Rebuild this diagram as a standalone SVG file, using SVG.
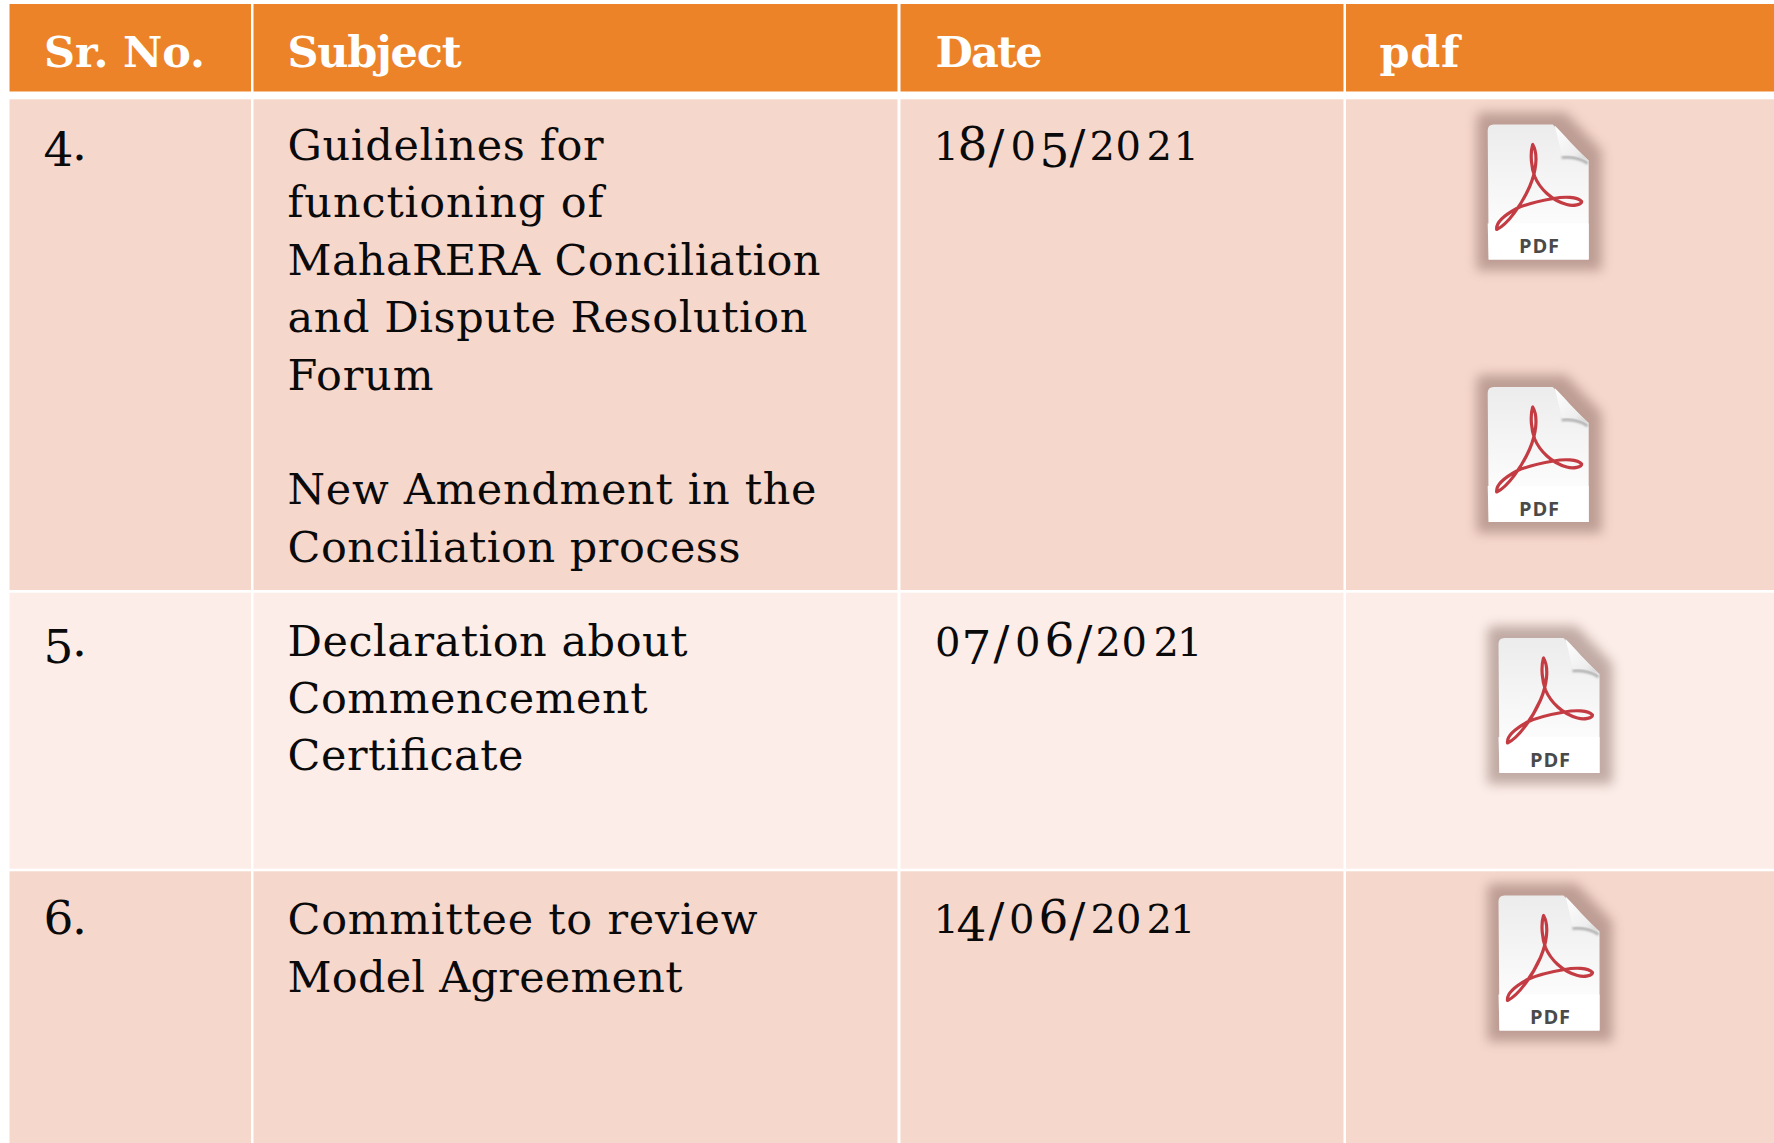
<svg xmlns="http://www.w3.org/2000/svg" width="1774" height="1143" viewBox="0 0 1774 1143">
<style>
.hd{fill:#ed8329}.dk{fill:#f6d7cc}.lt{fill:#fcede8}
text{font-family:"DejaVu Serif","Liberation Serif",serif}
.h{font-size:43px;font-weight:700;fill:#fff}
.b{font-size:43px;fill:#0a0a0a}
.n{font-size:47px;fill:#0a0a0a}
.x{font-size:40px}
.p{font-family:"Open Sans","Liberation Sans",sans-serif;font-size:20px;font-weight:700;fill:#4a4a4a}
</style>
<defs>
<filter id="blur" x="-40%" y="-40%" width="180%" height="180%"><feGaussianBlur stdDeviation="6"/></filter>
<filter id="soft" x="-20%" y="-100%" width="140%" height="300%"><feGaussianBlur stdDeviation="1.2"/></filter>
<linearGradient id="page" x1="0" y1="0" x2="0" y2="1"><stop offset="0" stop-color="#ececec"/><stop offset=".7" stop-color="#fbfbfb"/><stop offset="1" stop-color="#ffffff"/></linearGradient>
<linearGradient id="curl" x1="0" y1="0" x2="1" y2="1"><stop offset="0" stop-color="#ffffff"/><stop offset=".7" stop-color="#eeeeee"/><stop offset="1" stop-color="#cfcfcf"/></linearGradient>
<g id="icon">
<path d="M-5 -12H78L114 26V146H-11V-6Q-11 -12 -5 -12Z" fill="#6f5047" opacity=".42" filter="url(#blur)"/>
<path d="M6 0H65C72 8 88 24 101 36V135H1L0 6Q0 0 6 0Z" fill="url(#page)"/>
<path d="M0 99H101V135H1Z" fill="#fff"/>
<path d="M74 33C83 32 94 34 100 39" fill="none" stroke="#a8a8a8" stroke-width="2.5" filter="url(#soft)"/>
<path d="M67 1C70 12 72 24 75 31C83 30 94 32 101 36C88 24 76 10 67 1Z" fill="url(#curl)"/>
<path d="M9 105C20 100 34 80 42 62C48 48 51 30 45 20C42 30 44 44 47 52C52 64 64 76 79 80C86 82 94 80 94 77C90 72 76 72 66 74C54 76 40 79 29 84C18 90 8 98 9 105Z" fill="none" stroke="#c43c43" stroke-width="3.2" stroke-linejoin="round"/>
</g>
</defs>
<rect width="1774" height="1143" fill="#fff"/>
<g id="header">
<rect class="hd" x="9.5" y="4" width="241.5" height="87.5"/>
<rect class="hd" x="253.5" y="4" width="644" height="87.5"/>
<rect class="hd" x="900.5" y="4" width="443" height="87.5"/>
<rect class="hd" x="1346" y="4" width="428" height="87.5"/>
<text class="h" x="44" y="66.5" textLength="161">Sr. No.</text>
<text class="h" x="287.5" y="66.5" textLength="174">Subject</text>
<text class="h" x="935.5" y="66.5" textLength="107">Date</text>
<text class="h" x="1379.5" y="66.5" textLength="80">pdf</text>
</g>
<g id="row-4">
<rect class="dk" x="9.5" y="99.3" width="241.5" height="490.7"/>
<rect class="dk" x="253.5" y="99.3" width="644" height="490.7"/>
<rect class="dk" x="900.5" y="99.3" width="443" height="490.7"/>
<rect class="dk" x="1346" y="99.3" width="428" height="490.7"/>
<text class="n" y="161"><tspan x="43.5" y="166">4</tspan><tspan x="72" y="160">.</tspan></text>
<text class="b" x="287.5" y="159.7" textLength="316">Guidelines for</text>
<text class="b" x="287.5" y="217" textLength="316">functioning of</text>
<text class="b" x="287.5" y="274.5" textLength="533">MahaRERA Conciliation</text>
<text class="b" x="287.5" y="332" textLength="520">and Dispute Resolution</text>
<text class="b" x="287.5" y="390" textLength="146">Forum</text>
<text class="b" x="287.5" y="504.2" textLength="529">New Amendment in the</text>
<text class="b" x="287.5" y="561.8" textLength="453">Conciliation process</text>
<text class="n" y="160"><tspan class="x" x="933.5">1</tspan><tspan x="957.5">8</tspan><tspan x="988.5" y="163">/</tspan><tspan class="x" x="1010.5" y="160">0</tspan><tspan x="1039.5" y="167">5</tspan><tspan x="1069.5" y="163">/</tspan><tspan class="x" x="1089.5" y="160">2</tspan><tspan class="x" x="1115.5">0</tspan><tspan class="x" x="1146.5">2</tspan><tspan class="x" x="1173.5">1</tspan></text>
</g>
<g id="row-5">
<rect class="lt" x="9.5" y="592.7" width="241.5" height="276"/>
<rect class="lt" x="253.5" y="592.7" width="644" height="276"/>
<rect class="lt" x="900.5" y="592.7" width="443" height="276"/>
<rect class="lt" x="1346" y="592.7" width="428" height="276"/>
<text class="n" y="656"><tspan x="43.5" y="663">5</tspan><tspan x="72" y="656">.</tspan></text>
<text class="b" x="287.5" y="655.5" textLength="400">Declaration about</text>
<text class="b" x="287.5" y="712.5" textLength="360">Commencement</text>
<text class="b" x="287.5" y="770" textLength="236">Certificate</text>
<text class="n" y="656"><tspan class="x" x="935">0</tspan><tspan x="961.5" y="664">7</tspan><tspan x="993.5" y="659">/</tspan><tspan class="x" x="1015" y="656">0</tspan><tspan x="1044.5">6</tspan><tspan x="1076.5" y="659">/</tspan><tspan class="x" x="1095.5" y="656">2</tspan><tspan class="x" x="1121.5">0</tspan><tspan class="x" x="1153.5">2</tspan><tspan class="x" x="1177">1</tspan></text>
</g>
<g id="row-6">
<rect class="dk" x="9.5" y="871.3" width="241.5" height="271.7"/>
<rect class="dk" x="253.5" y="871.3" width="644" height="271.7"/>
<rect class="dk" x="900.5" y="871.3" width="443" height="271.7"/>
<rect class="dk" x="1346" y="871.3" width="428" height="271.7"/>
<text class="n" y="934"><tspan x="43.5">6</tspan><tspan x="72">.</tspan></text>
<text class="b" x="287.5" y="933.5" textLength="470">Committee to review</text>
<text class="b" x="287.5" y="991.5" textLength="395">Model Agreement</text>
<text class="n" y="933"><tspan class="x" x="933.5">1</tspan><tspan x="956.5" y="941">4</tspan><tspan x="988.5" y="936">/</tspan><tspan class="x" x="1009" y="933">0</tspan><tspan x="1038.5">6</tspan><tspan x="1069.5" y="936">/</tspan><tspan class="x" x="1090.5" y="933">2</tspan><tspan class="x" x="1116">0</tspan><tspan class="x" x="1146.5">2</tspan><tspan class="x" x="1170">1</tspan></text>
</g>
<g id="icon-1"><use href="#icon" x="1487.7" y="124.5"/><text class="p" x="1519" y="253" textLength="40">PDF</text></g>
<g id="icon-2"><use href="#icon" x="1487.7" y="387"/><text class="p" x="1519" y="516" textLength="40">PDF</text></g>
<g id="icon-3"><use href="#icon" x="1498.5" y="638"/><text class="p" x="1530" y="767" textLength="40">PDF</text></g>
<g id="icon-4"><use href="#icon" x="1498.5" y="895.5"/><text class="p" x="1530" y="1024" textLength="40">PDF</text></g>
</svg>
